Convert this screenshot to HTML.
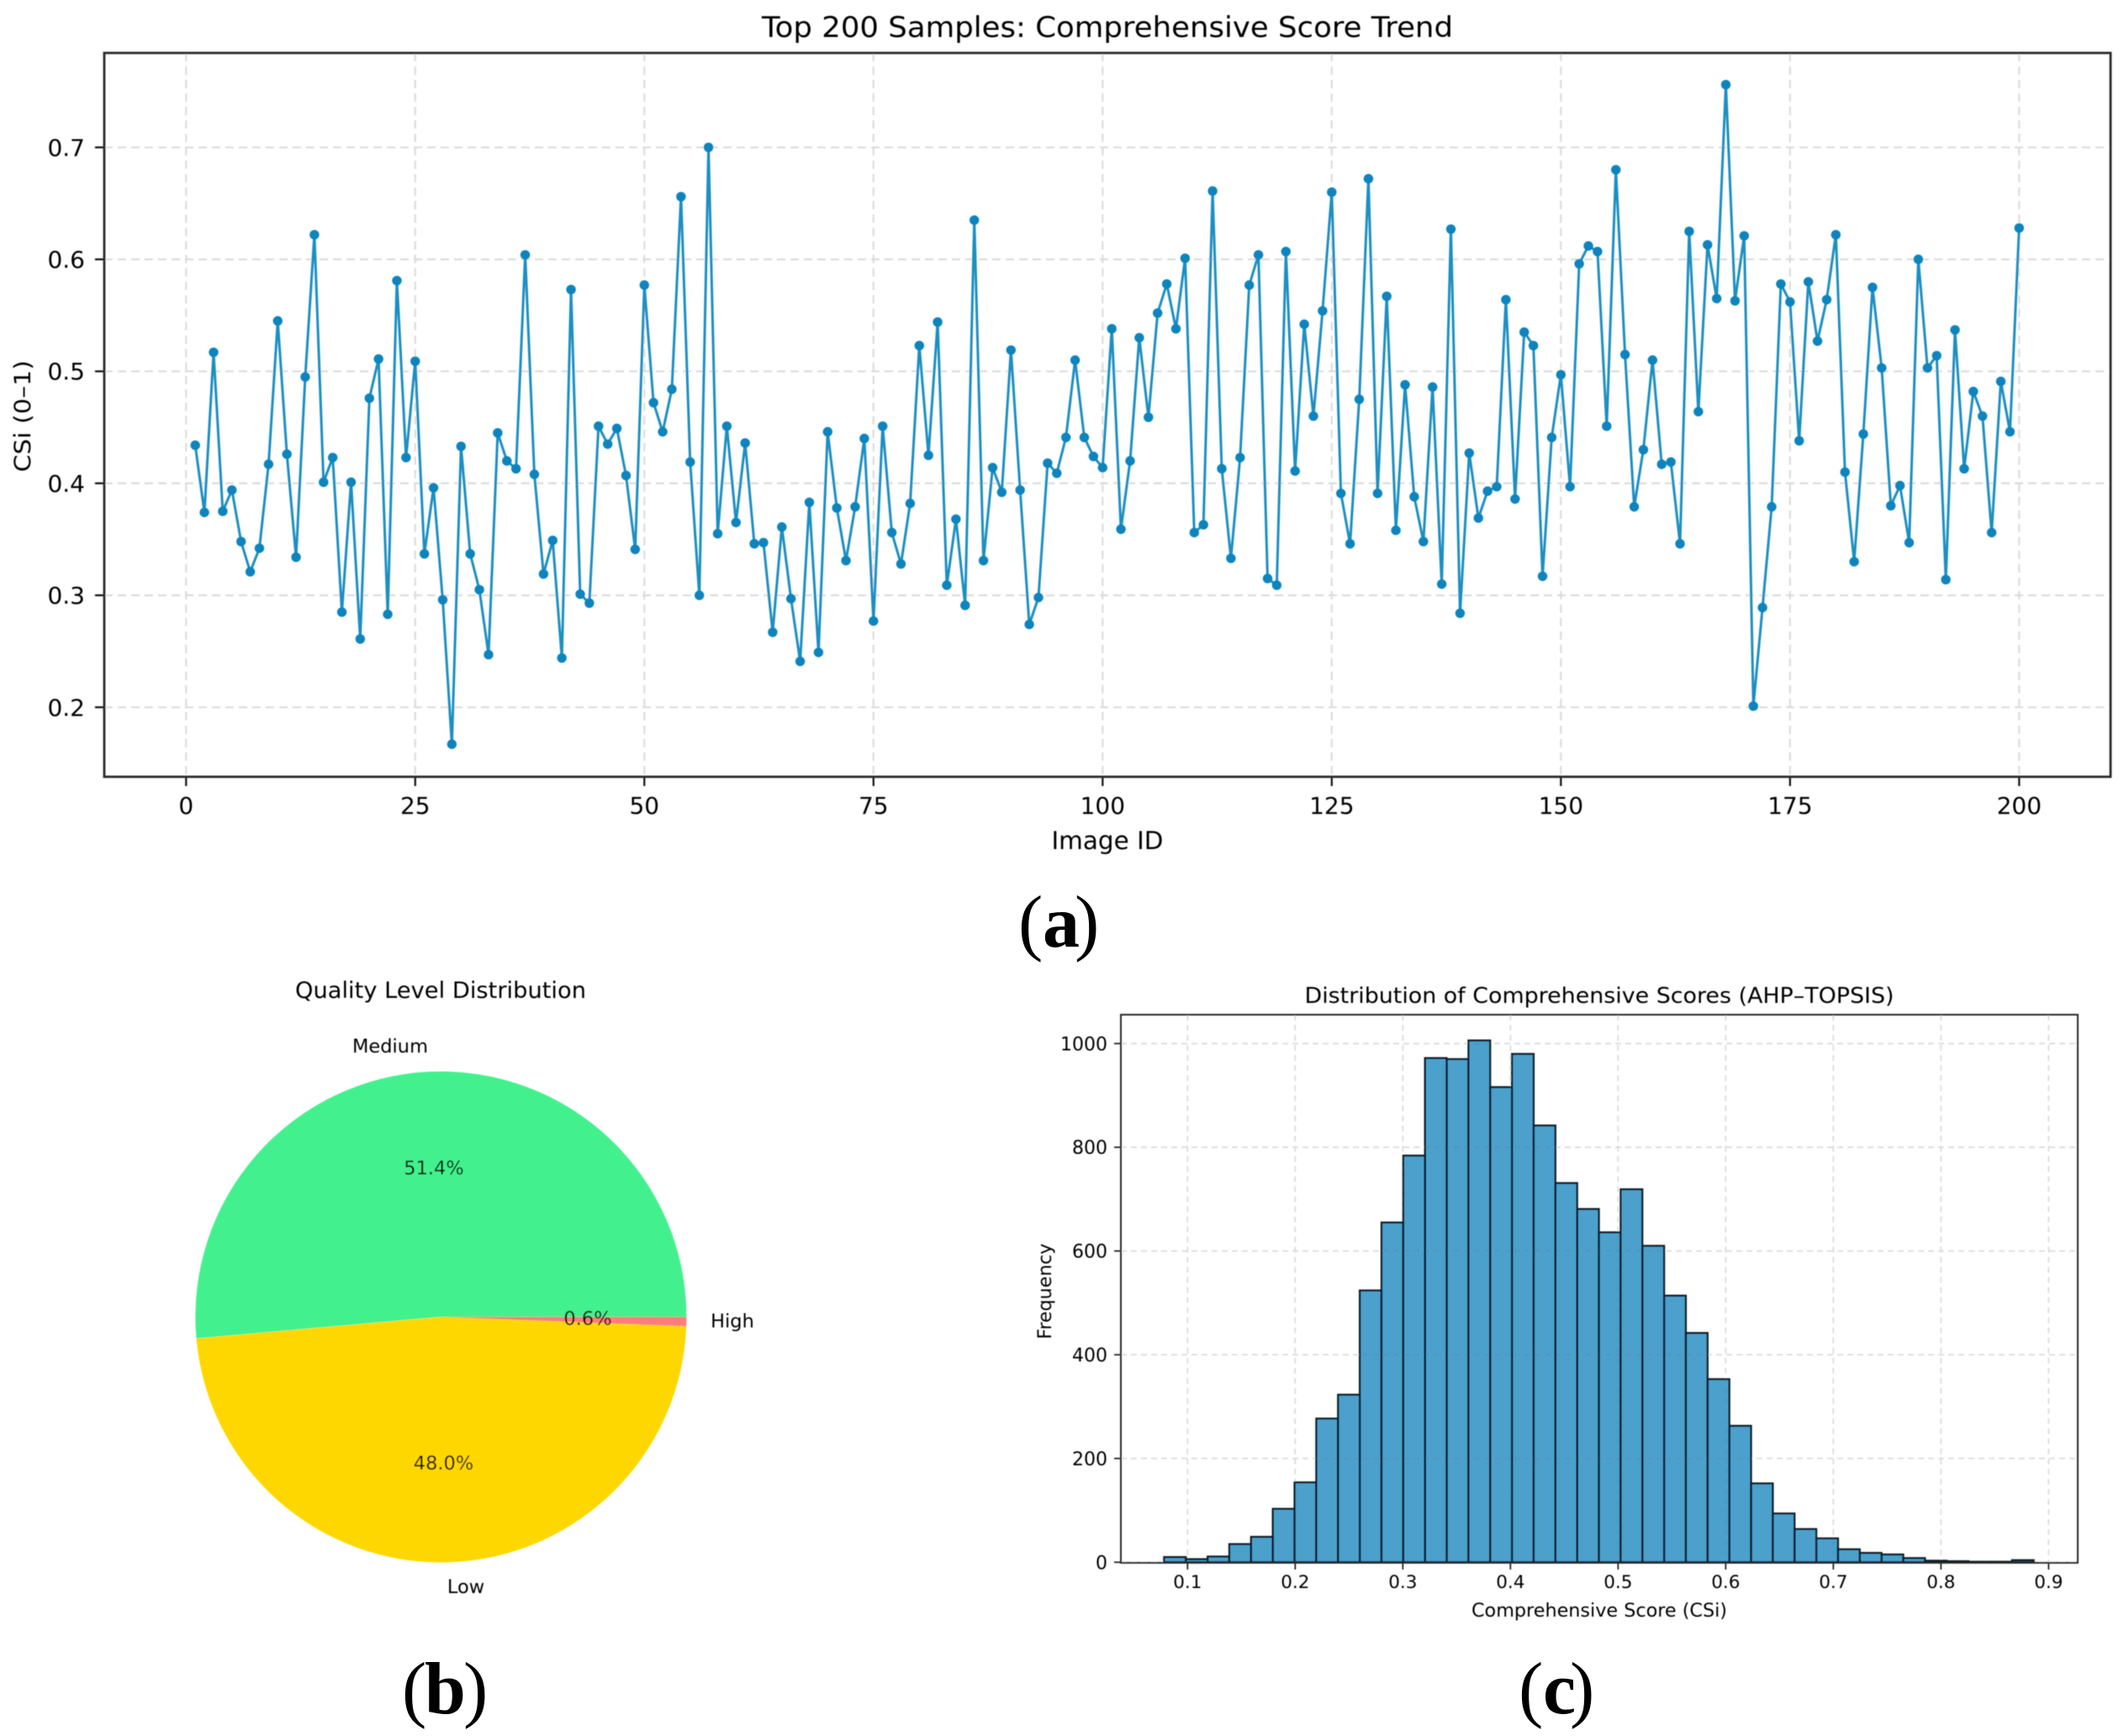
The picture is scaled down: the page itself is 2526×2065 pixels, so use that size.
<!DOCTYPE html>
<html lang="en">
<head>
<meta charset="utf-8">
<title>Comprehensive Score Figure</title>
<style>
html,body{margin:0;padding:0;background:#fff;}
svg{display:block;}
text{font-family:"DejaVu Sans","Liberation Sans",sans-serif;fill:#000;}
.cap{font-family:"Liberation Serif",serif;fill:#000;font-size:88px;}
.cap .let{font-weight:bold;}
</style>
</head>
<body>
<svg id="figure" xmlns="http://www.w3.org/2000/svg" width="2526" height="2065" viewBox="0 0 2526 2065">
  <defs>
    <filter id="soft" filterUnits="userSpaceOnUse" x="0" y="0" width="2526" height="2065"><feGaussianBlur stdDeviation="0.55"/></filter>
  </defs>
  <g id="panelA" filter="url(#soft)">
    <text x="1317" y="44" font-size="34" text-anchor="middle" textLength="822" lengthAdjust="spacingAndGlyphs">Top 200 Samples: Comprehensive Score Trend</text>
    <text x="1317" y="1010" font-size="29" text-anchor="middle" textLength="133" lengthAdjust="spacingAndGlyphs">Image ID</text>
    <text transform="translate(36 495) rotate(-90)" font-size="27" text-anchor="middle" textLength="133" lengthAdjust="spacingAndGlyphs">CSi (0–1)</text>
  </g>
  <text class="cap" y="1126"><tspan x="1211">(</tspan><tspan class="let" x="1240">a</tspan><tspan x="1278">)</tspan></text>
  <g id="panelB" filter="url(#soft)">
    <text x="524" y="1187" font-size="27" text-anchor="middle" textLength="346" lengthAdjust="spacingAndGlyphs">Quality Level Distribution</text>
  </g>
  <text class="cap" y="2038"><tspan x="478">(</tspan><tspan class="let" x="505">b</tspan><tspan x="551">)</tspan></text>
  <g id="panelC" filter="url(#soft)">
    <text x="1902" y="1193" font-size="26" text-anchor="middle" textLength="701" lengthAdjust="spacingAndGlyphs">Distribution of Comprehensive Scores (AHP–TOPSIS)</text>
    <text x="1902" y="1923" font-size="22" text-anchor="middle" textLength="304" lengthAdjust="spacingAndGlyphs">Comprehensive Score (CSi)</text>
    <text transform="translate(1250 1536) rotate(-90)" font-size="22" text-anchor="middle" textLength="114" lengthAdjust="spacingAndGlyphs">Frequency</text>
  </g>
  <text class="cap" y="2038"><tspan x="1806">(</tspan><tspan class="let" x="1835">c</tspan><tspan x="1867">)</tspan></text>
</svg>
<script>
// ---- Panel (a) data ----
const csiValues = [
.434,.374,.517,.375,.394,.348,.321,.342,.417,.545,.426,.334,.495,.622,.401,.423,.285,.401,.261,.476,
.511,.283,.581,.423,.509,.337,.396,.296,.167,.433,.337,.305,.247,.445,.420,.413,.604,.408,.319,.349,
.244,.573,.301,.293,.451,.435,.449,.407,.341,.577,.472,.446,.484,.656,.419,.300,.700,.355,.451,.365,
.436,.346,.347,.267,.361,.297,.241,.383,.249,.446,.378,.331,.379,.440,.277,.451,.356,.328,.382,.523,
.425,.544,.309,.368,.291,.635,.331,.414,.392,.519,.394,.274,.298,.418,.409,.441,.510,.441,.424,.414,
.538,.359,.420,.530,.459,.552,.578,.538,.601,.356,.363,.661,.413,.333,.423,.577,.604,.315,.309,.607,
.411,.542,.460,.554,.660,.391,.346,.475,.672,.391,.567,.358,.488,.388,.348,.486,.310,.627,.284,.427,
.369,.393,.397,.564,.386,.535,.523,.317,.441,.497,.397,.596,.612,.607,.451,.680,.515,.379,.430,.510,
.417,.419,.346,.625,.464,.613,.565,.756,.563,.621,.201,.289,.379,.578,.562,.438,.580,.527,.564,.622,
.410,.330,.444,.575,.503,.380,.398,.347,.600,.503,.514,.314,.537,.413,.482,.460,.356,.491,.446,.628
];
const trendXTicks = [0,25,50,75,100,125,150,175,200];
const trendYTicks = [0.2,0.3,0.4,0.5,0.6,0.7];

// ---- Panel (b) data ----
const pieLabels = ["Medium","Low","High"];
const pieShares = [51.4,48.0,0.6];
const pieColors = ["#43F18D","#FFD700","#FF7C7C"];

// ---- Panel (c) data ----
const histCounts = [10,6,11,35,49,103,154,277,323,524,655,784,972,970,1006,916,980,842,731,681,636,719,610,514,442,353,263,152,94,64,46,25,18,15,8,3,2,1,1,4];
const histFirstEdge = [0.0782];
const histBinSize = [0.0202];
const histXTicks = [0.1,0.2,0.3,0.4,0.5,0.6,0.7,0.8,0.9];
const histYTicks = [0,200,400,600,800,1000];

const NS = "http://www.w3.org/2000/svg";
function make(parent, tag, attrs, txt) {
  const el = document.createElementNS(NS, tag);
  for (const k in attrs) el.setAttribute(k, attrs[k]);
  if (txt !== undefined) el.textContent = txt;
  parent.appendChild(el);
  return el;
}
const GRID = "#dcdcdc";
const INK = "#111";

// ---- Panel (a) ----
(function () {
  const g = document.getElementById("panelA");
  const box = {l:124, r:2510, t:63, b:924};
  const xA = v => 221.3 + v * 10.9;
  const yA = v => 841.3 - (v - 0.2) * 1332;
  trendXTicks.forEach(t => {
    const x = xA(t);
    const grid = make(g, "line", {x1:x, x2:x, y1:box.t, y2:box.b, stroke:GRID, "stroke-width":2.2, "stroke-dasharray":"10 6"});
    
    
    const tick = make(g, "line", {x1:x, x2:x, y1:box.b, y2:box.b + 11, stroke:INK, "stroke-width":2.2});
    
    
    const lab = make(g, "text", {x:x, y:968, "font-size":28, "text-anchor":"middle"}, String(t));
    
    
  });
  trendYTicks.forEach(t => {
    const y = yA(t);
    const grid = make(g, "line", {x1:box.l, x2:box.r, y1:y, y2:y, stroke:GRID, "stroke-width":2.2, "stroke-dasharray":"10 6"});
    
    
    const tick = make(g, "line", {x1:box.l - 11, x2:box.l, y1:y, y2:y, stroke:INK, "stroke-width":2.2});
    
    
    const lab = make(g, "text", {x:101, y:y + 10, "font-size":28, "text-anchor":"end"}, t.toFixed(1));
    
    
  });
  const pts = csiValues.map((v, i) => xA(i + 1).toFixed(2) + "," + yA(v).toFixed(2)).join(" ");
  const line = make(g, "polyline", {points:pts, fill:"none", stroke:"#1E8FC2", "stroke-width":3, "stroke-linejoin":"round"});
  
  
  csiValues.forEach((v, i) => {
    const c = make(g, "circle", {cx:xA(i + 1), cy:yA(v), r:5.7, fill:"#0A84BD"});
    
    
  });
  const frame = make(g, "rect", {x:box.l, y:box.t, width:box.r - box.l, height:box.b - box.t, fill:"none", stroke:"#2a2a2a", "stroke-width":2.8});
  
  
})();

// ---- Panel (b) ----
(function () {
  const g = document.getElementById("panelB");
  const cx = 524.4, cy = 1566.5, R = 292;
  const labelSpots = [
    {lx:464, ly:1252, px:516, py:1397},
    {lx:554, ly:1895, px:527.5, py:1748},
    {lx:871, ly:1579, px:699, py:1576}
  ];
  const total = pieShares.reduce((a, b) => a + b, 0);
  let start = 0;
  pieShares.forEach((share, i) => {
    const end = start + share / total * 2 * Math.PI;
    const x0 = cx + R * Math.cos(start), y0 = cy - R * Math.sin(start);
    const x1 = cx + R * Math.cos(end), y1 = cy - R * Math.sin(end);
    const large = end - start > Math.PI ? 1 : 0;
    const d = "M" + cx + " " + cy + "L" + x0 + " " + y0 + "A" + R + " " + R + " 0 " + large + " 0 " + x1 + " " + y1 + "Z";
    const wedge = make(g, "path", {d:d, fill:pieColors[i]});
    
    
    start = end;
  });
  pieShares.forEach((share, i) => {
    const s = labelSpots[i];
    const lab = make(g, "text", {x:s.lx, y:s.ly, "font-size":22.5, "text-anchor":"middle"}, pieLabels[i]);
    
    
    const pct = make(g, "text", {x:s.px, y:s.py, "font-size":22.5, "text-anchor":"middle"}, share.toFixed(1) + "%");
    
    
  });
})();

// ---- Panel (c) ----
(function () {
  const g = document.getElementById("panelC");
  const box = {l:1333, r:2471, t:1207, b:1859};
  const xC = v => 1412.3 + (v - 0.1) * 1280;
  const yC = v => 1858.3 - v * 0.617;
  histXTicks.forEach(t => {
    const x = xC(t);
    const grid = make(g, "line", {x1:x, x2:x, y1:box.t, y2:box.b, stroke:GRID, "stroke-width":1.8, "stroke-dasharray":"7 5"});
    
    
    const tick = make(g, "line", {x1:x, x2:x, y1:box.b, y2:box.b + 8, stroke:INK, "stroke-width":1.6});
    
    
    const lab = make(g, "text", {x:x, y:1889, "font-size":21.5, "text-anchor":"middle"}, t.toFixed(1));
    
    
  });
  histYTicks.forEach(t => {
    const y = yC(t);
    const grid = make(g, "line", {x1:box.l, x2:box.r, y1:y, y2:y, stroke:GRID, "stroke-width":1.8, "stroke-dasharray":"7 5"});
    
    
    const tick = make(g, "line", {x1:box.l - 8, x2:box.l, y1:y, y2:y, stroke:INK, "stroke-width":1.6});
    
    
    const lab = make(g, "text", {x:1317, y:y + 8, "font-size":22, "text-anchor":"end"}, String(t));
    
    
  });
  histCounts.forEach((n, i) => {
    const x0 = xC(histFirstEdge[0] + i * histBinSize[0]);
    const x1 = xC(histFirstEdge[0] + (i + 1) * histBinSize[0]);
    const bar = make(g, "rect", {x:x0, y:yC(n), width:x1 - x0, height:yC(0) - yC(n), fill:"#0077B6", "fill-opacity":0.7, stroke:"#0c1a22", "stroke-width":2.2});
    
    
  });
  const frame = make(g, "rect", {x:box.l, y:box.t, width:box.r - box.l, height:box.b - box.t, fill:"none", stroke:"#2a2a2a", "stroke-width":2});
  
  
})();
</script>
</body>
</html>
